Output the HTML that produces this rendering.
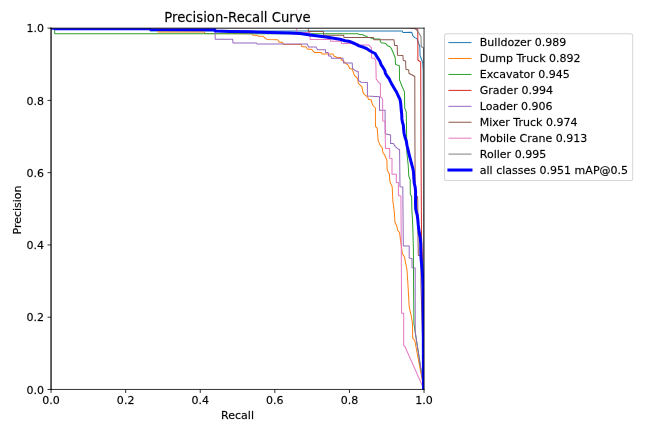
<!DOCTYPE html><html><head><meta charset="utf-8"><title>Precision-Recall Curve</title><style>html,body{margin:0;padding:0;background:#fff;overflow:hidden;width:650px;height:433px}svg{display:block}svg text{stroke:#000;stroke-width:0.25px;stroke-opacity:0.6}</style></head><body><svg width="650" height="433" preserveAspectRatio="none" viewBox="0 0 648 432" version="1.1">
<defs>
<style type="text/css">*{stroke-linejoin: round; stroke-linecap: butt}</style>
</defs>
<g id="figure_1">
<g id="patch_1">
<path d="M 0 432 
L 648 432 
L 648 0 
L 0 0 
z
" style="fill: #ffffff"/>
</g>
<g id="axes_1">
<g id="patch_2">
<path d="M 50.892923 388.550577 
L 422.745231 388.550577 
L 422.745231 28.084988 
L 50.892923 28.084988 
z
" style="fill: #ffffff"/>
</g>
<g id="matplotlib.axis_1">
<g id="xtick_1">
<g id="line2d_1">
<g>
<path d="M 0 0  L 0 3.5  " transform="translate(50.892923 388.550577)" style="stroke: #000000; stroke-width: 0.8"/>
</g>
</g>
<g id="text_1">
<text style="font-size: 11px; font-family: 'DejaVu Sans', sans-serif; text-anchor: middle" x="50.892923" y="403.188859" transform="rotate(-0 50.892923 403.188859)">0.0</text>
</g>
</g>
<g id="xtick_2">
<g id="line2d_2">
<g>
<path d="M 0 0  L 0 3.5  " transform="translate(125.263385 388.550577)" style="stroke: #000000; stroke-width: 0.8"/>
</g>
</g>
<g id="text_2">
<text style="font-size: 11px; font-family: 'DejaVu Sans', sans-serif; text-anchor: middle" x="125.263385" y="403.188859" transform="rotate(-0 125.263385 403.188859)">0.2</text>
</g>
</g>
<g id="xtick_3">
<g id="line2d_3">
<g>
<path d="M 0 0  L 0 3.5  " transform="translate(199.633846 388.550577)" style="stroke: #000000; stroke-width: 0.8"/>
</g>
</g>
<g id="text_3">
<text style="font-size: 11px; font-family: 'DejaVu Sans', sans-serif; text-anchor: middle" x="199.633846" y="403.188859" transform="rotate(-0 199.633846 403.188859)">0.4</text>
</g>
</g>
<g id="xtick_4">
<g id="line2d_4">
<g>
<path d="M 0 0  L 0 3.5  " transform="translate(274.004308 388.550577)" style="stroke: #000000; stroke-width: 0.8"/>
</g>
</g>
<g id="text_4">
<text style="font-size: 11px; font-family: 'DejaVu Sans', sans-serif; text-anchor: middle" x="274.004308" y="403.188859" transform="rotate(-0 274.004308 403.188859)">0.6</text>
</g>
</g>
<g id="xtick_5">
<g id="line2d_5">
<g>
<path d="M 0 0  L 0 3.5  " transform="translate(348.374769 388.550577)" style="stroke: #000000; stroke-width: 0.8"/>
</g>
</g>
<g id="text_5">
<text style="font-size: 11px; font-family: 'DejaVu Sans', sans-serif; text-anchor: middle" x="348.374769" y="403.188859" transform="rotate(-0 348.374769 403.188859)">0.8</text>
</g>
</g>
<g id="xtick_6">
<g id="line2d_6">
<g>
<path d="M 0 0  L 0 3.5  " transform="translate(422.745231 388.550577)" style="stroke: #000000; stroke-width: 0.8"/>
</g>
</g>
<g id="text_6">
<text style="font-size: 11px; font-family: 'DejaVu Sans', sans-serif; text-anchor: middle" x="422.745231" y="403.188859" transform="rotate(-0 422.745231 403.188859)">1.0</text>
</g>
</g>
<g id="text_7">
<text style="font-size: 11px; font-family: 'DejaVu Sans', sans-serif; text-anchor: middle" x="236.819077" y="417.834796" transform="rotate(-0 236.819077 417.834796)">Recall</text>
</g>
</g>
<g id="matplotlib.axis_2">
<g id="ytick_1">
<g id="line2d_7">
<g>
<path d="M 0 0  L -3.5 0  " transform="translate(50.892923 388.550577)" style="stroke: #000000; stroke-width: 0.8"/>
</g>
</g>
<g id="text_8">
<text style="font-size: 11px; font-family: 'DejaVu Sans', sans-serif; text-anchor: end" x="43.892923" y="392.729718" transform="rotate(-0 43.892923 392.729718)">0.0</text>
</g>
</g>
<g id="ytick_2">
<g id="line2d_8">
<g>
<path d="M 0 0  L -3.5 0  " transform="translate(50.892923 316.45746)" style="stroke: #000000; stroke-width: 0.8"/>
</g>
</g>
<g id="text_9">
<text style="font-size: 11px; font-family: 'DejaVu Sans', sans-serif; text-anchor: end" x="43.892923" y="320.6366" transform="rotate(-0 43.892923 320.6366)">0.2</text>
</g>
</g>
<g id="ytick_3">
<g id="line2d_9">
<g>
<path d="M 0 0  L -3.5 0  " transform="translate(50.892923 244.364342)" style="stroke: #000000; stroke-width: 0.8"/>
</g>
</g>
<g id="text_10">
<text style="font-size: 11px; font-family: 'DejaVu Sans', sans-serif; text-anchor: end" x="43.892923" y="248.543482" transform="rotate(-0 43.892923 248.543482)">0.4</text>
</g>
</g>
<g id="ytick_4">
<g id="line2d_10">
<g>
<path d="M 0 0  L -3.5 0  " transform="translate(50.892923 172.271224)" style="stroke: #000000; stroke-width: 0.8"/>
</g>
</g>
<g id="text_11">
<text style="font-size: 11px; font-family: 'DejaVu Sans', sans-serif; text-anchor: end" x="43.892923" y="176.450365" transform="rotate(-0 43.892923 176.450365)">0.6</text>
</g>
</g>
<g id="ytick_5">
<g id="line2d_11">
<g>
<path d="M 0 0  L -3.5 0  " transform="translate(50.892923 100.178106)" style="stroke: #000000; stroke-width: 0.8"/>
</g>
</g>
<g id="text_12">
<text style="font-size: 11px; font-family: 'DejaVu Sans', sans-serif; text-anchor: end" x="43.892923" y="104.357247" transform="rotate(-0 43.892923 104.357247)">0.8</text>
</g>
</g>
<g id="ytick_6">
<g id="line2d_12">
<g>
<path d="M 0 0  L -3.5 0  " transform="translate(50.892923 28.084988)" style="stroke: #000000; stroke-width: 0.8"/>
</g>
</g>
<g id="text_13">
<text style="font-size: 11px; font-family: 'DejaVu Sans', sans-serif; text-anchor: end" x="43.892923" y="32.264129" transform="rotate(-0 43.892923 32.264129)">1.0</text>
</g>
</g>
<g id="text_14">
<text style="font-size: 11px; font-family: 'DejaVu Sans', sans-serif; text-anchor: middle" x="20.111829" y="208.317783" transform="translate(0.7 1.2) rotate(-90 20.111829 208.317783)">Precision</text>
</g>
</g>
<g id="line2d_13">
<path d="M 149.538462 28.084988 
L 149.837538 30.828637 
L 400.962462 30.828637 
L 401.560615 32.325173 
L 410.532923 32.225404 
L 411.529846 35.81709 
L 413.623385 37.513164 
L 415.716923 38.510855 
L 417.411692 43.399538 
L 418.508308 45.893764 
L 418.807385 55.671132 
L 421.399385 62.355658 
L 421.897846 70.037875 
L 422.296615 199.538106 
L 422.745231 388.550577 
" clip-path="url(#p82b4dfc175)" style="fill: none; stroke: #1f77b4; stroke-linecap: square"/>
</g>
<g id="line2d_14">
<path d="M 149.538462 28.084988 
L 149.837538 30.52933 
L 157.015385 30.52933 
L 157.314462 31.926097 
L 203.571692 31.926097 
L 204.369231 33.422633 
L 251.124923 33.72194 
L 252.221538 35.118707 
L 256.109538 35.118707 
L 257.704615 36.216166 
L 262.190769 36.216166 
L 266.078769 39.309007 
L 276.845538 39.708083 
L 278.440615 42.10254 
L 281.431385 42.10254 
L 282.627692 44.29746 
L 300.273231 44.29746 
L 301.070769 46.691917 
L 304.859077 46.691917 
L 306.653538 49.086374 
L 310.342154 49.086374 
L 313.731692 52.478522 
L 320.510769 52.478522 
L 321.009231 53.975058 
L 331.776 53.975058 
L 333.171692 56.169977 
L 336.461538 57.367206 
L 339.651692 57.367206 
L 340.548923 59.861432 
L 342.841846 61.258199 
L 344.736 63.353349 
L 346.530462 64.450808 
L 347.726769 66.047113 
L 348.424615 68.341801 
L 351.116308 69.040185 
L 353.409231 75.525173 
L 356.599385 78.318707 
L 357.097846 82.908083 
L 360.786462 86.599538 
L 362.082462 92.984758 
L 364.375385 95.279446 
L 366.369231 96.576443 
L 367.366154 98.970901 
L 370.057846 99.868822 
L 371.453538 104.957044 
L 373.347692 106.752887 
L 374.244923 107.750577 
L 374.344615 126.108083 
L 376.039385 127.903926 
L 376.537846 134.688222 
L 377.036308 140.774134 
L 379.329231 145.36351 
L 381.123692 147.658199 
L 381.622154 151.848499 
L 383.416615 154.542263 
L 385.709538 160.12933 
L 385.908923 169.208314 
L 388.201846 173.797691 
L 388.700308 181.1806 
L 390.993231 186.268822 
L 391.691077 201.433718 
L 392.289231 205.025404 
L 393.286154 213.406005 
L 393.684923 221.686836 
L 395.579077 225.378291 
L 396.476308 229.967667 
L 398.270769 231.76351 
L 399.267692 239.445727 
L 400.164923 245.53164 
L 401.062154 252.91455 
L 403.355077 256.606005 
L 404.252308 262.093303 
L 405.648 268.578291 
L 406.644923 283.244342 
L 407.940923 306.191224 
L 409.835077 314.472055 
L 411.230769 322.752887 
L 411.430154 337.418938 
L 413.523692 339.713626 
L 422.745231 388.550577 
" clip-path="url(#p82b4dfc175)" style="fill: none; stroke: #ff7f0e; stroke-linecap: square"/>
</g>
<g id="line2d_15">
<path d="M 54.332308 28.084988 
L 54.531692 33.622171 
L 356.699077 33.622171 
L 358.393846 34.520092 
L 362.182154 34.71963 
L 363.378462 35.717321 
L 365.372308 36.116397 
L 366.369231 37.114088 
L 368.363077 37.513164 
L 370.456615 38.311316 
L 373.248 38.909931 
L 378.830769 38.909931 
L 379.129846 41.304388 
L 380.126769 42.701155 
L 383.616 43.100231 
L 385.011692 43.798614 
L 386.307692 45.594457 
L 388.401231 46.292841 
L 389.796923 47.889145 
L 391.192615 50.682679 
L 392.588308 54.074827 
L 393.984 57.566744 
L 394.283077 64.25127 
L 398.171077 65.648037 
L 398.270769 79.715473 
L 400.962462 86.599538 
L 403.255385 91.68776 
L 403.454769 107.650808 
L 405.049846 111.841109 
L 405.348923 134.688222 
L 405.548308 151.648961 
L 406.944 164.718707 
L 407.542154 175.693303 
L 408.937846 179.384758 
L 409.037538 194.050808 
L 410.333538 195.94642 
L 410.632615 210.313164 
L 411.230769 219.491917 
L 411.629538 229.468822 
L 412.128 249.422633 
L 412.327385 289.330254 
L 412.626462 322.752887 
L 422.745231 388.550577 
" clip-path="url(#p82b4dfc175)" style="fill: none; stroke: #2ca02c; stroke-linecap: square"/>
</g>
<g id="line2d_16">
<path d="M 409.137231 28.084988 
L 415.716923 28.833256 
L 416.514462 29.431871 
L 416.614154 59.861432 
L 419.405538 62.056351 
L 419.704615 149.65358 
L 420.203077 235.454965 
L 421.2 259.399538 
L 422.745231 388.550577 
" clip-path="url(#p82b4dfc175)" style="fill: none; stroke: #d62728; stroke-linecap: square"/>
</g>
<g id="line2d_17">
<path d="M 214.338462 28.084988 
L 214.537846 39.209238 
L 231.984 39.209238 
L 232.283077 42.900693 
L 255.810462 43.000462 
L 256.209231 43.798614 
L 306.354462 43.798614 
L 307.550769 46.991224 
L 315.227077 46.991224 
L 316.523077 49.684988 
L 324.498462 49.684988 
L 324.598154 52.478522 
L 327.190154 52.478522 
L 327.688615 55.970439 
L 329.782154 55.970439 
L 330.679385 58.065589 
L 341.944615 58.065589 
L 342.443077 62.854503 
L 351.116308 62.854503 
L 351.415385 68.142263 
L 354.804923 70.935797 
L 357.097846 71.334873 
L 357.396923 80.613395 
L 360.288 82.010162 
L 366.269538 82.309469 
L 366.269538 95.778291 
L 378.332308 96.576443 
L 378.332308 109.945497 
L 383.915077 109.945497 
L 383.915077 119.722864 
L 384.114462 133.391224 
L 389.398154 134.787991 
L 389.398154 143.068822 
L 392.189538 143.068822 
L 393.984 146.261432 
L 396.775385 148.55612 
L 398.370462 149.054965 
L 398.769231 186.268822 
L 401.560615 186.568129 
L 402.059077 245.53164 
L 407.940923 245.53164 
L 407.940923 257.503926 
L 410.732308 257.903002 
L 410.732308 267.181524 
L 413.922462 267.381062 
L 413.922462 331.233256 
L 422.745231 388.550577 
" clip-path="url(#p82b4dfc175)" style="fill: none; stroke: #9467bd; stroke-linecap: square"/>
</g>
<g id="line2d_18">
<path d="M 307.351385 28.084988 
L 307.451077 31.327483 
L 322.404923 31.327483 
L 322.604308 35.118707 
L 342.542769 35.118707 
L 342.941538 37.313626 
L 372.251077 37.313626 
L 372.849231 39.608314 
L 392.688 39.708083 
L 393.385846 45.29515 
L 395.977846 45.494688 
L 396.276923 55.172286 
L 401.660308 55.371824 
L 402.059077 60.360277 
L 404.352 60.859122 
L 404.651077 69.139954 
L 407.442462 69.838337 
L 407.741538 73.330254 
L 411.031385 74.82679 
L 413.523692 76.323326 
L 413.623385 134.688222 
L 413.922462 195.94642 
L 416.315077 195.94642 
L 416.514462 204.526559 
L 416.713846 239.445727 
L 417.012923 254.710393 
L 419.704615 255.408776 
L 419.704615 285.339492 
L 422.745231 388.550577 
" clip-path="url(#p82b4dfc175)" style="fill: none; stroke: #8c564b; stroke-linecap: square"/>
</g>
<g id="line2d_19">
<path d="M 295.188923 28.084988 
L 296.584615 32.424942 
L 308.946462 32.424942 
L 309.245538 39.309007 
L 329.383385 39.309007 
L 329.582769 41.204619 
L 340.150154 41.204619 
L 340.449231 43.399538 
L 356.898462 43.399538 
L 357.396923 44.796305 
L 367.366154 44.796305 
L 370.157538 47.490069 
L 370.356923 48.886836 
L 370.456615 57.866051 
L 373.248 58.065589 
L 374.643692 60.659584 
L 375.042462 78.717783 
L 377.335385 82.010162 
L 379.129846 83.307159 
L 379.329231 96.676212 
L 381.422769 98.571824 
L 381.622154 120.620785 
L 383.915077 121.019861 
L 384.214154 148.157044 
L 388.500923 148.157044 
L 388.500923 157.834642 
L 390.793846 158.133949 
L 390.793846 173.797691 
L 395.080615 173.797691 
L 395.080615 182.078522 
L 397.174154 182.078522 
L 397.174154 195.048499 
L 399.666462 195.547344 
L 399.965538 239.445727 
L 400.364308 312.576443 
L 402.457846 312.576443 
L 402.457846 344.901617 
L 403.654154 345.699769 
L 422.745231 388.550577 
" clip-path="url(#p82b4dfc175)" style="fill: none; stroke: #e377c2; stroke-linecap: square"/>
</g>
<g id="line2d_20">
<path d="M 50.892923 28.084988 
L 413.723077 28.084988 
L 417.212308 32.325173 
L 419.704615 36.715012 
L 419.904 46.39261 
L 422.196923 47.889145 
L 422.296615 299.307159 
L 422.745231 388.550577 
" clip-path="url(#p82b4dfc175)" style="fill: none; stroke: #7f7f7f; stroke-linecap: square"/>
</g>
<g id="line2d_21">
<path d="M 50.892923 28.084988 
L 54.432 27.935335 
L 54.830769 28.633718 
L 149.538462 28.733487 
L 150.535385 29.53164 
L 214.139077 29.631409 
L 214.637538 31.028176 
L 229.292308 31.427252 
L 249.230769 31.726559 
L 269.169231 32.424942 
L 289.107692 32.923788 
L 299.076923 33.522402 
L 309.046154 34.919169 
L 324.996923 36.91455 
L 338.953846 39.159353 
L 343.938462 40.655889 
L 348.923077 41.503926 
L 353.907692 43.648961 
L 357.895385 45.793995 
L 362.381538 47.190762 
L 365.372308 48.387991 
L 368.363077 50.383372 
L 370.855385 51.879908 
L 373.945846 53.376443 
L 376.039385 57.067898 
L 378.531692 60.759353 
L 380.027077 64.750115 
L 381.921231 67.543649 
L 383.616 70.337182 
L 384.214154 73.030947 
L 385.809231 75.82448 
L 388.002462 78.618014 
L 388.899692 80.713164 
L 390.793846 84.404619 
L 392.987077 88.096074 
L 395.28 91.787529 
L 397.074462 95.778291 
L 398.868923 99.469746 
L 399.467077 103.161201 
L 399.766154 106.852656 
L 400.065231 110.544111 
L 400.464 113.736721 
L 400.663385 118.625404 
L 401.261538 122.316859 
L 402.059077 124.611547 
L 402.457846 129.699769 
L 402.856615 133.191686 
L 403.753846 136.883141 
L 405.049846 140.574596 
L 405.747692 145.163972 
L 406.744615 149.154734 
L 407.741538 153.84388 
L 409.037538 158.433256 
L 409.934769 162.124711 
L 410.532923 164.219861 
L 411.529846 167.911316 
L 412.227692 171.602771 
L 412.526769 177.588915 
L 413.025231 183.076212 
L 413.922462 186.767667 
L 414.321231 191.456813 
L 414.221538 202.531178 
L 414.420923 208.417552 
L 415.118769 211.709931 
L 415.916308 214.503464 
L 416.514462 218.993072 
L 416.913231 223.682217 
L 417.411692 228.271594 
L 418.009846 232.362125 
L 418.907077 236.951501 
L 419.405538 242.937644 
L 419.505231 250.420323 
L 419.804308 258.601386 
L 420.701538 267.879908 
L 421.299692 276.360277 
L 421.698462 285.838337 
L 421.997538 329.237875 
L 422.196923 388.550577 
" clip-path="url(#p82b4dfc175)" style="fill: none; stroke: #0000ff; stroke-width: 3; stroke-linecap: square"/>
</g>
<g id="patch_3">
<path d="M 50.892923 388.550577 
L 50.892923 28.084988 
" style="fill: none; stroke: #000000; stroke-width: 1.25; stroke-linejoin: miter; stroke-linecap: square"/>
</g>
<g id="patch_4">
<path d="M 422.745231 388.550577 
L 422.745231 28.084988 
" style="fill: none; stroke: #000000; stroke-width: 0.8; stroke-linejoin: miter; stroke-linecap: square"/>
</g>
<g id="patch_5">
<path d="M 50.892923 388.550577 
L 422.745231 388.550577 
" style="fill: none; stroke: #000000; stroke-width: 0.8; stroke-linejoin: miter; stroke-linecap: square"/>
</g>
<g id="patch_6">
<path d="M 50.892923 28.084988 
L 422.745231 28.084988 
" style="fill: none; stroke: #000000; stroke-width: 0.8; stroke-linejoin: miter; stroke-linecap: square"/>
</g>
<g id="text_15">
<text style="font-size: 13.2px; font-family: 'DejaVu Sans', sans-serif; text-anchor: middle" x="236.819077" y="22.084988" transform="translate(0 0.3) rotate(-0 236.819077 22.084988)">Precision-Recall Curve</text>
</g>
<g id="legend_1">
<g id="patch_7">
<path d="M 445.319323 180.174426 
L 628.520886 180.174426 
Q 630.720886 180.174426 630.720886 177.974426 
L 630.720886 35.784988 
Q 630.720886 33.584988 628.520886 33.584988 
L 445.319323 33.584988 
Q 443.119323 33.584988 443.119323 35.784988 
L 443.119323 177.974426 
Q 443.119323 180.174426 445.319323 180.174426 
z
" style="fill: #ffffff; opacity: 0.8; stroke: #cccccc; stroke-linejoin: miter"/>
</g>
<g id="line2d_22">
<path d="M 447.519323 42.49327 
L 458.519323 42.49327 
L 469.519323 42.49327 
" style="fill: none; stroke: #1f77b4; stroke-linecap: square"/>
</g>
<g id="text_16">
<text style="font-size: 11px; font-family: 'DejaVu Sans', sans-serif; text-anchor: start" x="478.319323" y="46.34327" transform="rotate(-0 478.319323 46.34327)">Bulldozer 0.989</text>
</g>
<g id="line2d_23">
<path d="M 447.519323 58.386207 
L 458.519323 58.386207 
L 469.519323 58.386207 
" style="fill: none; stroke: #ff7f0e; stroke-linecap: square"/>
</g>
<g id="text_17">
<text style="font-size: 11px; font-family: 'DejaVu Sans', sans-serif; text-anchor: start" x="478.319323" y="62.236207" transform="rotate(-0 478.319323 62.236207)">Dump Truck 0.892</text>
</g>
<g id="line2d_24">
<path d="M 447.519323 74.279145 
L 458.519323 74.279145 
L 469.519323 74.279145 
" style="fill: none; stroke: #2ca02c; stroke-linecap: square"/>
</g>
<g id="text_18">
<text style="font-size: 11px; font-family: 'DejaVu Sans', sans-serif; text-anchor: start" x="478.319323" y="78.129145" transform="rotate(-0 478.319323 78.129145)">Excavator 0.945</text>
</g>
<g id="line2d_25">
<path d="M 447.519323 90.172082 
L 458.519323 90.172082 
L 469.519323 90.172082 
" style="fill: none; stroke: #d62728; stroke-linecap: square"/>
</g>
<g id="text_19">
<text style="font-size: 11px; font-family: 'DejaVu Sans', sans-serif; text-anchor: start" x="478.319323" y="94.022082" transform="rotate(-0 478.319323 94.022082)">Grader 0.994</text>
</g>
<g id="line2d_26">
<path d="M 447.519323 106.06502 
L 458.519323 106.06502 
L 469.519323 106.06502 
" style="fill: none; stroke: #9467bd; stroke-linecap: square"/>
</g>
<g id="text_20">
<text style="font-size: 11px; font-family: 'DejaVu Sans', sans-serif; text-anchor: start" x="478.319323" y="109.91502" transform="rotate(-0 478.319323 109.91502)">Loader 0.906</text>
</g>
<g id="line2d_27">
<path d="M 447.519323 121.957957 
L 458.519323 121.957957 
L 469.519323 121.957957 
" style="fill: none; stroke: #8c564b; stroke-linecap: square"/>
</g>
<g id="text_21">
<text style="font-size: 11px; font-family: 'DejaVu Sans', sans-serif; text-anchor: start" x="478.319323" y="125.807957" transform="rotate(-0 478.319323 125.807957)">Mixer Truck 0.974</text>
</g>
<g id="line2d_28">
<path d="M 447.519323 137.850895 
L 458.519323 137.850895 
L 469.519323 137.850895 
" style="fill: none; stroke: #e377c2; stroke-linecap: square"/>
</g>
<g id="text_22">
<text style="font-size: 11px; font-family: 'DejaVu Sans', sans-serif; text-anchor: start" x="478.319323" y="141.700895" transform="rotate(-0 478.319323 141.700895)">Mobile Crane 0.913</text>
</g>
<g id="line2d_29">
<path d="M 447.519323 153.743832 
L 458.519323 153.743832 
L 469.519323 153.743832 
" style="fill: none; stroke: #7f7f7f; stroke-linecap: square"/>
</g>
<g id="text_23">
<text style="font-size: 11px; font-family: 'DejaVu Sans', sans-serif; text-anchor: start" x="478.319323" y="157.593832" transform="rotate(-0 478.319323 157.593832)">Roller 0.995</text>
</g>
<g id="line2d_30">
<path d="M 447.519323 169.63677 
L 458.519323 169.63677 
L 469.519323 169.63677 
" style="fill: none; stroke: #0000ff; stroke-width: 3; stroke-linecap: square"/>
</g>
<g id="text_24">
<text style="font-size: 11px; font-family: 'DejaVu Sans', sans-serif; text-anchor: start" x="478.319323" y="173.48677" transform="rotate(-0 478.319323 173.48677)">all classes 0.951 mAP@0.5</text>
</g>
</g>
</g>
</g>
<defs>
<clipPath id="p82b4dfc175">
<rect x="50.892923" y="28.084988" width="371.852308" height="360.465589"/>
</clipPath>
</defs>
</svg>
</body></html>
